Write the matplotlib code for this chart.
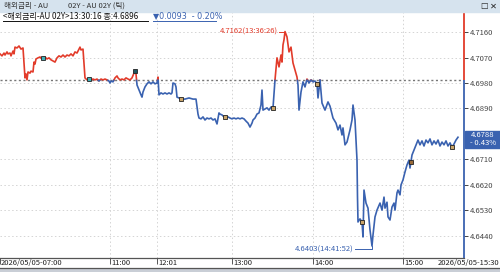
import numpy as np
import matplotlib.pyplot as plt
from matplotlib.patches import Rectangle
from matplotlib.lines import Line2D
import matplotlib.transforms as mtransforms

plt.rcParams['font.family'] = ['Noto Sans CJK KR', 'DejaVu Sans']

# tick index (chart position) and price
idx = [0, 2, 4, 5, 7, 8, 10, 11, 13, 14, 15, 17, 19, 21, 23, 25, 26, 27, 28, 30,
       31, 33, 34, 35, 36, 38, 40, 42, 43, 45, 47, 49, 51, 53, 55, 57, 59, 61, 63, 65,
       67, 69, 71, 73, 75, 77, 79, 80, 81, 83, 85, 87, 89, 91, 93, 95, 97, 99, 101, 103,
       105, 107, 109, 110, 111, 113, 115, 117, 118, 120, 122, 124, 126, 128, 130, 132, 134, 135, 136, 137,
       139, 141, 142, 143, 145, 147, 149, 151, 153, 155, 157, 158, 159, 161, 163, 165, 167, 169, 171, 172,
       173, 175, 176, 177, 179, 181, 185, 189, 193, 196, 198, 199, 201, 203, 205, 207, 209, 211, 213, 215,
       217, 219, 220, 222, 224, 226, 228, 230, 232, 234, 236, 238, 240, 242, 244, 246, 248, 250, 252, 253,
       255, 257, 259, 261, 262, 263, 265, 267, 269, 271, 273, 275, 277, 279, 281, 282, 283, 284, 285, 287,
       289, 291, 293, 295, 297, 298, 299, 301, 303, 305, 307, 309, 311, 313, 315, 317, 318, 320, 322, 325,
       328, 330, 333, 336, 338, 340, 342, 343, 345, 347, 350, 352, 353, 355, 357, 357.5, 358, 360, 362, 363,
       364, 366, 368, 370, 372, 373, 375, 377, 380, 382, 384, 385, 387, 388, 390, 392, 394, 395, 397, 398,
       400, 401, 403, 405, 407, 409, 410, 412, 414, 416, 418, 420, 422, 424, 426, 428, 430, 432, 434, 436,
       438, 440, 442, 444, 446, 448, 450, 452, 454, 456, 458]
price = [4.7083, 4.7076, 4.7086, 4.7079, 4.7090, 4.7083, 4.7086, 4.7076, 4.7093, 4.7083,
         4.7107, 4.7104, 4.7111, 4.7100, 4.7104, 4.6998, 4.7012, 4.6991, 4.7019, 4.7015,
         4.7022, 4.7019, 4.7054, 4.7047, 4.7065, 4.7069, 4.7072, 4.7065, 4.7069, 4.7072,
         4.7065, 4.7069, 4.7062, 4.7058, 4.7054, 4.7069, 4.7076, 4.7072, 4.7079, 4.7072,
         4.7079, 4.7076, 4.7083, 4.7076, 4.7090, 4.7086, 4.7100, 4.7107, 4.7097, 4.7100,
         4.6998, 4.6991, 4.6994, 4.6991, 4.6994, 4.6991, 4.6994, 4.6987, 4.6994, 4.6991,
         4.6994, 4.6991, 4.6987, 4.6980, 4.6987, 4.6984, 4.6998, 4.7005, 4.6998, 4.6991,
         4.6994, 4.6991, 4.6998, 4.6994, 4.6991, 4.6998, 4.7015, 4.7022, 4.7012, 4.6973,
         4.6955, 4.6938, 4.6930, 4.6948, 4.6966, 4.6977, 4.6984, 4.6977, 4.6984, 4.6977,
         4.6980, 4.7001, 4.6938, 4.6945, 4.6941, 4.6945, 4.6941, 4.6945, 4.6941, 4.6945,
         4.6980, 4.6977, 4.6966, 4.6930, 4.6927, 4.6923, 4.6923, 4.6927, 4.6923, 4.6923,
         4.6870, 4.6856, 4.6853, 4.6860, 4.6849, 4.6856, 4.6853, 4.6856, 4.6849, 4.6853,
         4.6835, 4.6874, 4.6870, 4.6867, 4.6860, 4.6856, 4.6860, 4.6856, 4.6853, 4.6856,
         4.6853, 4.6856, 4.6853, 4.6856, 4.6853, 4.6845, 4.6838, 4.6824, 4.6838, 4.6849,
         4.6856, 4.6870, 4.6874, 4.6902, 4.6955, 4.6884, 4.6888, 4.6892, 4.6884, 4.6895,
         4.6892, 4.6991, 4.7069, 4.7037, 4.7079, 4.7054, 4.7115, 4.7133, 4.7162, 4.7143,
         4.7090, 4.7107, 4.7051, 4.7026, 4.7001, 4.6973, 4.6884, 4.6948, 4.6984, 4.6966,
         4.6994, 4.6980, 4.6991, 4.6984, 4.6987, 4.6977, 4.6927, 4.6991, 4.6909, 4.6884,
         4.6913, 4.6898, 4.6856, 4.6838, 4.6814, 4.6831, 4.6796, 4.6821, 4.6761, 4.6771,
         4.6814, 4.6849, 4.6902, 4.6849, 4.6707, 4.6576, 4.6488, 4.6499, 4.6488, 4.6435,
         4.6601, 4.6555, 4.6537, 4.6460, 4.6403, 4.6442, 4.6506, 4.6530, 4.6555, 4.6530,
         4.6576, 4.6537, 4.6558, 4.6506, 4.6495, 4.6541, 4.6555, 4.6530, 4.6591, 4.6601,
         4.6584, 4.6619, 4.6637, 4.6665, 4.6690, 4.6707, 4.6679, 4.6725, 4.6743, 4.6761,
         4.6778, 4.6761, 4.6775, 4.6757, 4.6778, 4.6768, 4.6782, 4.6761, 4.6775, 4.6764,
         4.6778, 4.6757, 4.6771, 4.6761, 4.6775, 4.6757, 4.6768, 4.6753, 4.6764, 4.6778,
         4.6788]

ref_price = 4.6989
yticks = [4.6440, 4.6530, 4.6620, 4.6710, 4.6890, 4.6980, 4.7070, 4.7160]
xtick_pos = [0, 110, 157, 232, 313, 403]
xtick_lab = ['2026/05/05-07:00', '11:00', '12:01', '13:00', '14:00', '15:00']
event_pos = [43, 89, 135, 181, 225, 273, 317, 362, 411, 452]
event_col = ['#3fb0b8', '#3fb0b8', '#1d5560', '#c8a46a', '#c8a46a',
             '#c8a46a', '#c8a46a', '#c8a46a', '#9a6a3a', '#c8a46a']

RED = '#e23b2a'
BLUE = '#3a62b0'

W, H = 500, 272
fig = plt.figure(figsize=(W / 100, H / 100), dpi=100)
fig.patch.set_facecolor('white')


def fx(x):
    return x / W


def fy(y):
    return 1 - y / H


ax = fig.add_axes([0, fy(258), fx(464), fy(12) - fy(258)])
ax.set_xlim(0, 464)
ax.set_ylim(4.63605, 4.72313)

# split line into red (above ref) and blue (below ref)
xs, vs = [idx[0]], [price[0]]
for i in range(1, len(idx)):
    a, b = price[i - 1] - ref_price, price[i] - ref_price
    if a * b < 0:
        t = a / (a - b)
        xs.append(idx[i - 1] + t * (idx[i] - idx[i - 1]))
        vs.append(ref_price)
    xs.append(idx[i])
    vs.append(price[i])
xs = np.array(xs)
vs = np.array(vs)
ax.plot(xs, np.where(vs >= ref_price, vs, np.nan), color=RED, lw=1.2, zorder=3)
ax.plot(xs, np.where(vs <= ref_price, vs, np.nan), color=BLUE, lw=1.2, zorder=3)

# grid
for v in yticks:
    ax.axhline(v, color='#d4d4d4', lw=0.7, ls=(0, (1.5, 2.5)), zorder=1)
for x in xtick_pos[1:]:
    ax.axvline(x, color='#d4d4d4', lw=0.7, ls=(0, (1.5, 2.5)), zorder=1)
ax.axhline(ref_price, color='#777777', lw=1.0, ls=(0, (1.5, 1.8)), zorder=2)

# event markers
ev_v = np.interp(event_pos, idx, price)
for x, v, c in zip(event_pos, ev_v, event_col):
    ax.plot(x, v, marker='s', ms=3, mfc=c, mec='#222222', mew=0.6, zorder=4)

# high / low labels
i_hi = int(np.argmax(price))
i_lo = int(np.argmin(price))
ax.plot([idx[i_hi] - 6, idx[i_hi]], [price[i_hi], price[i_hi]], color=RED, lw=0.7, zorder=4)
ax.text(idx[i_hi] - 7, price[i_hi], '4.7162(13:36:26)', color=RED, fontsize=5.5,
        ha='right', va='center')
y_lo_lab = price[i_lo] - 0.0012
ax.plot([idx[i_lo] - 17, idx[i_lo], idx[i_lo]], [y_lo_lab, y_lo_lab, price[i_lo]],
        color=BLUE, lw=0.7, zorder=4)
ax.text(idx[i_lo] - 18, y_lo_lab, '4.6403(14:41:52)', color=BLUE, fontsize=5.5,
        ha='right', va='center')

# axes styling
for s in ['top', 'left', 'right']:
    ax.spines[s].set_visible(False)
ax.spines['bottom'].set_color('#555555')
ax.spines['bottom'].set_linewidth(0.9)
ax.vlines(464, ref_price, 4.72313, color=RED, lw=1.3, clip_on=False, zorder=5)
ax.vlines(464, 4.63605, ref_price, color=BLUE, lw=1.3, clip_on=False, zorder=5)

ax.yaxis.tick_right()
ax.set_yticks(yticks)
ax.set_yticklabels(['%.4f' % v for v in yticks])
ax.tick_params(axis='y', direction='out', length=3, width=0.7, colors='#444444',
               labelsize=5.5, pad=1)
ax.set_xticks(xtick_pos)
ax.set_xticklabels([])
ax.tick_params(axis='x', direction='out', length=4, width=0.7, colors='#555555')
trans = mtransforms.blended_transform_factory(ax.transData, fig.transFigure)
for x, lab in zip(xtick_pos, xtick_lab):
    ax.text(x + 1, fy(263), lab, transform=trans, fontsize=5.5, color='#222222',
            ha='left', va='center', clip_on=False)
fig.text(fx(499), fy(263), '2026/05/05-15:30', fontsize=5.5, color='#222222',
         ha='right', va='center')

# bottom frame and scrollbar
fig.add_artist(Line2D([0, 1], [fy(268), fy(268)], color='#555555', lw=0.9))
fig.patches.append(Rectangle((0, 0), 1, fy(268.5), transform=fig.transFigure,
                             color='#c9ced6', zorder=0))

# title bar
fig.patches.append(Rectangle((0, fy(12)), 1, 12 / H, transform=fig.transFigure,
                             color='#d6e3ee', zorder=0))
fig.text(fx(4), fy(6), '해외금리 - AU', fontsize=5.5, color='#333333', va='center')
fig.text(fx(68), fy(6), '02Y - AU 02Y (틱)', fontsize=5.5, color='#333333', va='center')
fig.text(fx(484), fy(6), '☐', fontsize=6, color='#222222', va='center', ha='center',
         family=['DejaVu Sans'])
fig.text(fx(493), fy(6), '✕', fontsize=6, color='#222222', va='center', ha='center',
         family=['DejaVu Sans'])

# header line
fig.text(fx(3), fy(16), '<해외금리-AU 02Y>13:30:16 종:4.6896', fontsize=5.8,
         color='#111111', va='center')
fig.text(fx(153), fy(16), '▼0.0093  - 0.20%', fontsize=5.8, color=BLUE, va='center',
         family=['DejaVu Sans'])
fig.add_artist(Line2D([fx(3), fx(148)], [fy(20.5), fy(20.5)], color='#111111', lw=0.7))
fig.add_artist(Line2D([fx(153), fx(216)], [fy(20.5), fy(20.5)], color=BLUE, lw=0.7))

# last value box
fig.patches.append(Rectangle((fx(465), fy(148)), fx(35), 17 / H, transform=fig.transFigure,
                             color=BLUE, zorder=5))
fig.text(fx(483), fy(135), '%.4f' % price[-1], fontsize=5.5, color='white',
         ha='center', va='center', zorder=6)
fig.text(fx(483), fy(143), '- 0.43%', fontsize=5.5, color='white',
         ha='center', va='center', zorder=6)

fig.savefig('out.png', dpi=100)
